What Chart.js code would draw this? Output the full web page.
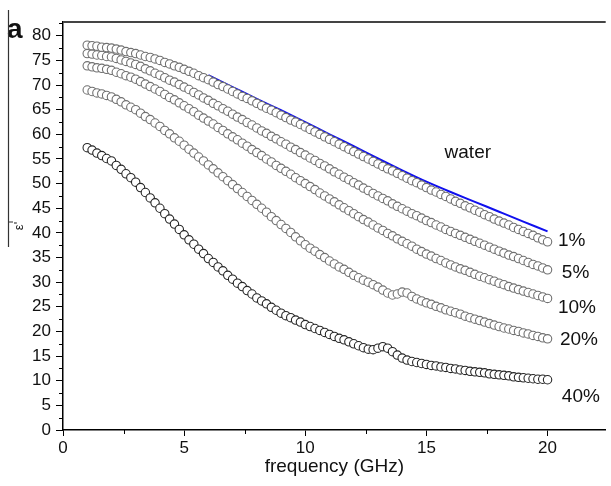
<!DOCTYPE html>
<html>
<head>
<meta charset="utf-8">
<script src="https://cdn.jsdelivr.net/npm/chart.js@4.4.0/dist/chart.umd.min.js"></script>
<style>
  html, body { margin: 0; padding: 0; background: #fff; }
  #wrap { width: 611px; height: 486px; }
</style>
</head>
<body>
<div id="wrap"><canvas id="chart" width="611" height="486"></canvas></div>
<script>
// frequency (GHz) of each measured point
const freq = [1,1.2,1.4,1.6,1.8, 2,2.2,2.4,2.6,2.8, 3,3.2,3.4,3.6,3.8, 4,4.2,4.4,4.6,4.8,
  5,5.2,5.4,5.6,5.8, 6,6.2,6.4,6.6,6.8, 7,7.2,7.4,7.6,7.8, 8,8.2,8.4,8.6,8.8,
  9,9.2,9.4,9.6,9.8, 10,10.2,10.4,10.6,10.8, 11,11.2,11.4,11.6,11.8, 12,12.2,12.4,12.6,12.8,
  13,13.2,13.4,13.6,13.8, 14,14.2,14.4,14.6,14.8, 15,15.2,15.4,15.6,15.8, 16,16.2,16.4,16.6,16.8,
  17,17.2,17.4,17.6,17.8, 18,18.2,18.4,18.6,18.8, 19,19.2,19.4,19.6,19.8, 20];

const eps1 = [78.1,78.0,77.9,77.7,77.6, 77.5,77.3,77.1,76.8,76.6, 76.4,76.1,75.8,75.6,75.3, 75.0,74.6,74.3,73.9,73.6,
  73.2,72.8,72.4,71.9,71.5, 71.1,70.6,70.1,69.7,69.2, 68.7,68.2,67.7,67.3,66.8, 66.3,65.8,65.3,64.9,64.4,
  63.9,63.4,62.9,62.5,62.0, 61.5,61.0,60.5,60.0,59.5, 59.0,58.5,58.0,57.5,57.0, 56.5,56.0,55.5,55.0,54.5,
  54.0,53.5,53.0,52.6,52.1, 51.6,51.1,50.6,50.2,49.7, 49.2,48.7,48.3,47.8,47.4, 46.9,46.4,46.0,45.5,45.1,
  44.6,44.2,43.7,43.3,42.8, 42.4,42.0,41.6,41.1,40.7, 40.3,39.9,39.5,39.0,38.6, 38.2];

const eps5 = [76.4,76.3,76.1,76.0,75.8, 75.7,75.4,75.1,74.8,74.5, 74.2,73.8,73.3,72.9,72.4, 72.0,71.5,71.0,70.6,70.1,
  69.6,69.1,68.5,68.0,67.4, 66.9,66.3,65.8,65.2,64.7, 64.1,63.5,63.0,62.4,61.9, 61.3,60.7,60.2,59.6,59.1,
  58.5,58.0,57.4,56.9,56.3, 55.8,55.2,54.7,54.1,53.6, 53.0,52.4,51.9,51.3,50.8, 50.2,49.7,49.1,48.6,48.0,
  47.5,47.0,46.5,45.9,45.4, 44.9,44.4,43.9,43.5,43.0, 42.5,42.1,41.6,41.2,40.7, 40.3,39.9,39.5,39.1,38.7,
  38.3,37.9,37.5,37.1,36.7, 36.3,35.9,35.5,35.2,34.8, 34.4,34.0,33.6,33.3,32.9, 32.5];

const eps10 = [73.9,73.7,73.5,73.4,73.2, 73.0,72.6,72.3,71.9,71.6, 71.2,70.7,70.2,69.7,69.2, 68.7,68.1,67.5,67.0,66.4,
  65.8,65.2,64.6,63.9,63.3, 62.7,62.1,61.4,60.8,60.1, 59.5,58.9,58.2,57.6,56.9, 56.3,55.7,55.0,54.4,53.7,
  53.1,52.5,51.9,51.2,50.6, 50.0,49.4,48.8,48.1,47.5, 46.9,46.3,45.7,45.1,44.5, 43.9,43.3,42.7,42.2,41.6,
  41.0,40.5,39.9,39.4,38.8, 38.3,37.8,37.3,36.7,36.2, 35.7,35.3,34.8,34.4,33.9, 33.5,33.1,32.7,32.4,32.0,
  31.6,31.2,30.9,30.5,30.2, 29.8,29.5,29.1,28.8,28.5, 28.2,27.9,27.6,27.3,27.0, 26.7];

const eps20 = [69.0,68.7,68.4,68.2,67.9, 67.6,67.1,66.6,66.0,65.5, 65.0,64.3,63.6,63.0,62.3, 61.6,60.8,60.1,59.3,58.6,
  57.8,57.0,56.2,55.4,54.6, 53.8,53.0,52.2,51.4,50.6, 49.8,49.0,48.2,47.4,46.6, 45.8,45.0,44.2,43.3,42.5,
  41.7,40.9,40.1,39.2,38.4, 37.6,36.9,36.3,35.6,35.0, 34.3,33.7,33.1,32.6,32.0, 31.4,30.9,30.4,30.0,29.5,
  29.0,28.4,27.8,27.4,27.6, 28.0,27.8,27.1,26.6,26.2, 25.8,25.5,25.1,24.8,24.4, 24.1,23.8,23.5,23.1,22.8,
  22.5,22.2,21.9,21.6,21.3, 21.0,20.7,20.5,20.2,20.0, 19.7,19.5,19.2,19.0,18.7, 18.5];

const eps40 = [57.3,56.8,56.2,55.7,55.1, 54.6,53.7,52.9,52.0,51.2, 50.3,49.2,48.2,47.1,46.1, 45.0,43.9,42.8,41.8,40.7,
  39.6,38.6,37.7,36.7,35.8, 34.8,34.0,33.1,32.3,31.4, 30.6,29.8,29.1,28.3,27.6, 26.8,26.2,25.6,24.9,24.3,
  23.7,23.2,22.8,22.3,21.9, 21.4,21.0,20.6,20.2,19.8, 19.4,19.0,18.6,18.3,17.9, 17.5,17.1,16.7,16.4,16.3,
  16.6,16.9,16.6,15.9,15.2, 14.6,14.2,13.9,13.7,13.5, 13.3,13.1,13.0,12.8,12.7, 12.5,12.4,12.2,12.1,11.9,
  11.8,11.7,11.6,11.4,11.3, 11.2,11.1,11.0,10.8,10.7, 10.6,10.5,10.4,10.3,10.3, 10.2];

// pure water reference curve (blue line)
const waterFreq = [6, 7, 8, 9, 10, 11, 12, 13, 14, 15, 16, 17, 18, 19, 20];
const waterEps = [72.0, 69.6, 67.2, 64.9, 62.5, 60.0, 57.6, 55.1, 52.7, 50.4, 48.3, 46.3, 44.3, 42.3, 40.3];

const seriesNames = ['1%', '5%', '10%', '20%', '40%'];
const xTicks = [0, 5, 10, 15, 20];
const yTicks = [0, 5, 10, 15, 20, 25, 30, 35, 40, 45, 50, 55, 60, 65, 70, 75, 80];

// text notes placed in data coordinates
const curveNotes = [
  { text: 'water', x: 15.75, y: 56.2 },
  { text: '1%', x: 20.43, y: 38.5 },
  { text: '5%', x: 20.59, y: 32.0 },
  { text: '10%', x: 20.43, y: 24.9 },
  { text: '20%', x: 20.51, y: 18.3 },
  { text: '40%', x: 20.59, y: 6.7 }
];

const FONT = '"Liberation Sans", Arial, sans-serif';
const pts = arr => arr.map((v, i) => ({ x: freq[i], y: v }));

function circles(label, values, color) {
  return {
    label: label,
    data: pts(values),
    showLine: false,
    pointRadius: 4.2,
    pointBorderWidth: 1.1,
    pointBorderColor: color,
    pointBackgroundColor: '#fff'
  };
}

const decor = {
  id: 'decor',
  afterDraw(chart) {
    const { ctx, chartArea: a, scales: { x, y } } = chart;
    ctx.save();
    // top frame line
    ctx.strokeStyle = '#444';
    ctx.lineWidth = 2;
    ctx.beginPath();
    ctx.moveTo(a.left, a.top);
    ctx.lineTo(a.right, a.top);
    ctx.stroke();

    // minor ticks halfway between majors
    ctx.strokeStyle = '#000';
    ctx.lineWidth = 1;
    ctx.beginPath();
    xTicks.forEach(v => {
      const p = Math.round(x.getPixelForValue(v + 2.5)) + 0.5;
      if (p < a.right) { ctx.moveTo(p, a.bottom); ctx.lineTo(p, a.bottom + 4); }
    });
    yTicks.forEach(v => {
      if (v + 2.5 > y.max) return;
      const p = Math.round(y.getPixelForValue(v + 2.5)) + 0.5;
      ctx.moveTo(a.left, p); ctx.lineTo(a.left - 4, p);
    });
    ctx.stroke();

    // curve labels
    ctx.fillStyle = '#111';
    ctx.font = '19px ' + FONT;
    ctx.textAlign = 'left';
    ctx.textBaseline = 'middle';
    curveNotes.forEach(n => ctx.fillText(n.text, x.getPixelForValue(n.x), y.getPixelForValue(n.y)));

    // panel letter
    ctx.font = 'bold 28px ' + FONT;
    ctx.textBaseline = 'alphabetic';
    ctx.fillText('a', 7, 38);

    // leftover bracket line at the left edge
    ctx.strokeStyle = '#333';
    ctx.lineWidth = 1.2;
    ctx.beginPath();
    ctx.moveTo(8.5, 10); ctx.lineTo(8.5, 247);
    ctx.moveTo(8.5, 222); ctx.lineTo(13, 222);
    ctx.stroke();
    ctx.restore();
  }
};

const axisGrid = { display: true, drawOnChartArea: false, drawTicks: true, color: '#000', lineWidth: 1 };

new Chart(document.getElementById('chart'), {
  type: 'scatter',
  data: {
    datasets: [
      circles(seriesNames[0], eps1, '#707070'),
      circles(seriesNames[1], eps5, '#707070'),
      circles(seriesNames[2], eps10, '#707070'),
      circles(seriesNames[3], eps20, '#707070'),
      circles(seriesNames[4], eps40, '#262626'),
      {
        type: 'line',
        label: 'water',
        data: waterFreq.map((f, i) => ({ x: f, y: waterEps[i] })),
        borderColor: '#1010ee',
        borderWidth: 2,
        pointRadius: 0,
        cubicInterpolationMode: 'monotone',
        fill: false
      }
    ]
  },
  options: {
    responsive: false,
    animation: false,
    layout: { padding: { top: 22, right: 0, bottom: 0, left: 0 } },
    plugins: { legend: { display: false }, tooltip: { enabled: false } },
    scales: {
      x: {
        type: 'linear',
        min: 0,
        max: 22.4,
        afterBuildTicks: s => { s.ticks = xTicks.map(v => ({ value: v })); },
        afterFit: s => { s.height = 56; },
        grid: Object.assign({}, axisGrid, { tickLength: 6 }),
        border: { display: true, color: '#000', width: 1.5 },
        ticks: { color: '#111', font: { size: 17, family: FONT }, padding: 2, maxRotation: 0, autoSkip: false },
        title: { display: true, text: 'frequency (GHz)', color: '#111', font: { size: 19, family: FONT }, padding: { top: 0, bottom: 8 } }
      },
      y: {
        type: 'linear',
        min: 0,
        max: 82.8,
        afterBuildTicks: s => { s.ticks = yTicks.map(v => ({ value: v })); },
        afterFit: s => { s.width = 63; },
        grid: Object.assign({}, axisGrid, { tickLength: 7 }),
        border: { display: true, color: '#000', width: 1.5 },
        ticks: { color: '#111', font: { size: 17, family: FONT }, padding: 5, autoSkip: false },
        title: { display: true, text: "ε'", color: '#111', font: { size: 13, family: FONT }, padding: { top: 12, bottom: 0 } }
      }
    }
  },
  plugins: [decor]
});
</script>
</body>
</html>
